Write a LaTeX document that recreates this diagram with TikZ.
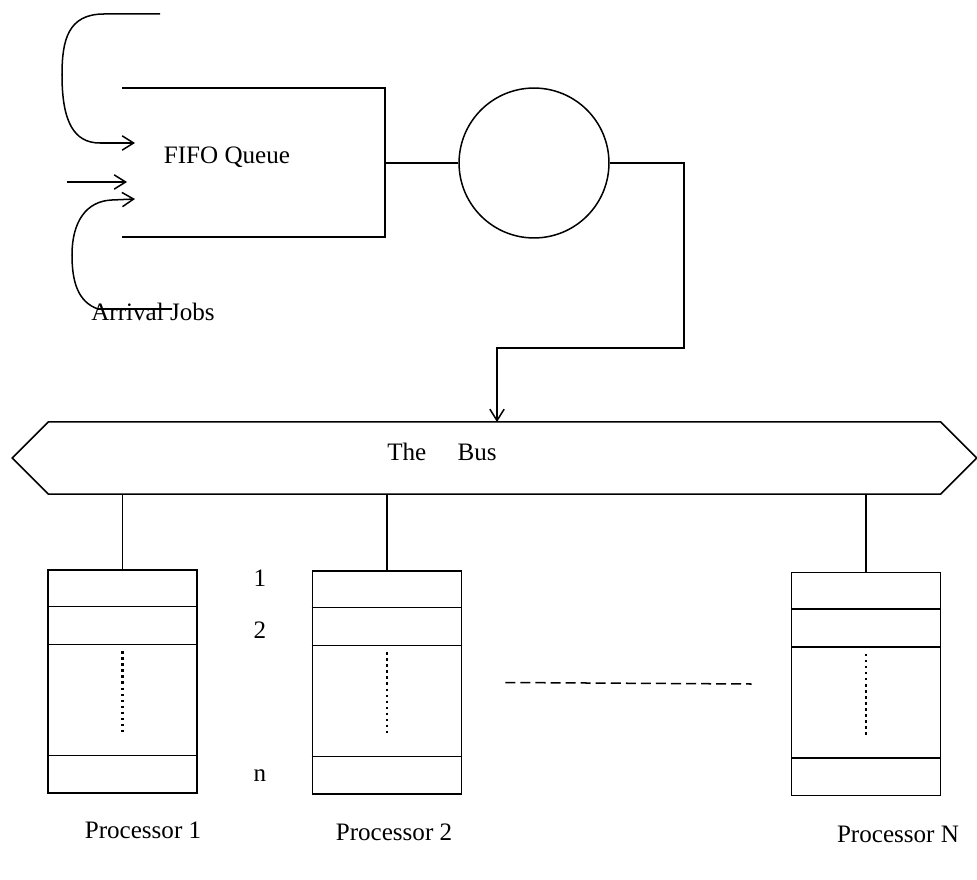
\documentclass[tikz,border=0pt]{standalone}
\usepackage{fontspec}
\setmainfont{Liberation Serif}
\usetikzlibrary{arrows.meta,positioning,shapes.symbols,calc}

\begin{document}
\begin{tikzpicture}[x=0.014cm,y=-0.014cm,
  >={Straight Barb[length=1.6mm,width=2mm]},
  line width=0.6pt,
  proc/.style={draw,minimum width=2.09cm,minimum height=3.12cm,inner sep=0pt},
  bus/.style={draw,shape=signal,signal to=west and east,signal pointer angle=90,
              minimum width=13.51cm,minimum height=1.01cm,inner sep=0pt},
  lab/.style={font=\normalsize,inner sep=1pt}]
\useasboundingbox (0,0) rectangle (977,879);
% queue and server
\draw (122,88) -- (385,88) -- (385,237) -- (122,237);
\node[lab] (fifo) at (227,157) {FIFO Queue};
\coordinate (qout) at (385,163);
\node[draw,circle,minimum size=2.1cm,inner sep=0pt] (server) at (534,163) {};
\draw (qout) -- (server.west);
% arrivals
\coordinate (top0) at (160,14);
\coordinate (in1) at (135,143);
\coordinate (mid0) at (67,182);
\coordinate (in2) at (127,182);
\coordinate (in3) at (135,199);
\node[lab] (arrival) at (153,312) {Arrival Jobs};
\coordinate (bot0) at (172,309);
\draw[->] (top0) -- (104,14) .. controls (68,14) and (62,40) .. (62,75)
  .. controls (62,122) and (74,143) .. (100,143) -- (in1);
\draw[->] (mid0) -- (in2);
\draw[->] (bot0) -- (98,309) .. controls (78,302) and (72,282) .. (72,255)
  .. controls (72,222) and (86,201) .. (112,200) -- (in3);
% the bus
\node[bus] (bus) at (494.5,458) {};
\node[lab] (buslabel) at (442,452) {The\quad\ Bus};
\coordinate (turn) at (684,348);
\coordinate (drop) at (497,422);
\draw[->] (server.east) -| (turn) -| (drop);
% processors
\node[proc] (p1) at (122.5,681.5) {};
\node[proc] (p2) at (387,682.5) {};
\node[proc] (pn) at (866,684) {};
\foreach \p in {p1,p2,pn}{
  \draw (bus.south -| \p.north) -- (\p.north);
  \foreach \d in {37,75,186}
    \draw ($(\p.north west)+(0,\d)$) -- ($(\p.north east)+(0,\d)$);
  \draw[line width=1pt,dash pattern=on 1pt off 1.4pt] ($(\p.north)+(0,82)$) -- ($(\p.north)+(0,163)$);
}
\node[lab] (n1) at (260,578) {1};
\node[lab] (n2) at (260,630) {2};
\node[lab] (nn) at (260,776) {n};
\draw[dash pattern=on 4pt off 2pt] ($(p2.east)+(43,0)$) -- ($(pn.west)+(-39,0)$);
\node[lab] (l1) at (143,830) {Processor 1};
\node[lab] (l2) at (394,832) {Processor 2};
\node[lab] (ln) at (898,834) {Processor N};
\end{tikzpicture}
\end{document}
